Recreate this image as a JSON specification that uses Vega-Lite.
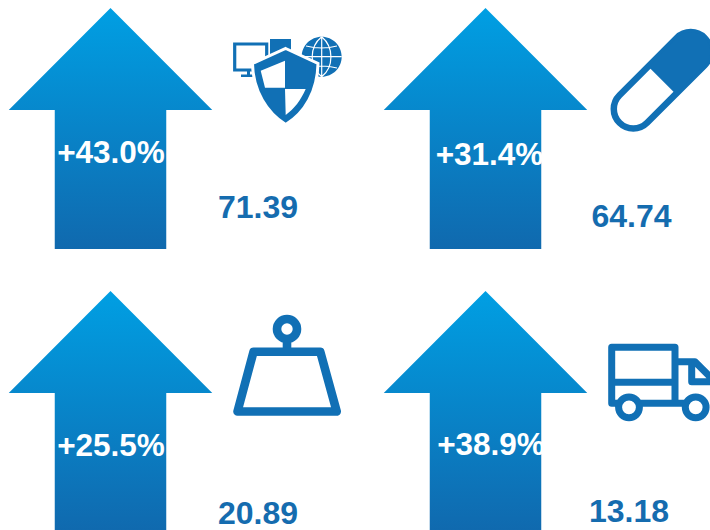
{
"$schema":"https://vega.github.io/schema/vega-lite/v6.json",
"width":710,"height":530,"padding":0,"background":"white",
"autosize":{"type":"fit","contains":"padding"},
"config":{"view":{"stroke":null}},
"data":{"values":[
{"panel":"security","col":0,"row":0,"change":0.43,"value":71.39},
{"panel":"pill","col":1,"row":0,"change":0.314,"value":64.74},
{"panel":"weight","col":0,"row":1,"change":0.255,"value":20.89},
{"panel":"truck","col":1,"row":1,"change":0.389,"value":13.18}
]},
"encoding":{
"x":{"field":"col","type":"quantitative","axis":null,"scale":{"domain":[0,1],"range":[110.5,485.5]}},
"y":{"field":"row","type":"quantitative","axis":null,"scale":{"domain":[0,1],"range":[128.5,411.5]}}
},
"layer":[
{"mark":{"type":"point","clip":true,"filled":true,"opacity":1,"size":4,"shape":"M0,-120.5 L101.75,-18.5 L55.75,-18.5 L55.75,120.5 L-55.75,120.5 L-55.75,-18.5 L-101.75,-18.5 Z","fill":{"gradient":"linear","x1":0,"y1":0,"x2":0,"y2":1,"stops":[{"offset":0,"color":"#009FE3"},{"offset":1,"color":"#1069AE"}]}}},

{"transform":[{"filter":"datum.panel==='security'"}],"mark":{"type":"point","filled":false,"opacity":1,"size":4,"xOffset":174.5,"yOffset":-55.5,"stroke":"#1170B5","strokeWidth":3.2,"shape":"M-50.3,-29 L-18.3,-29 L-18.3,-3 L-50.3,-3 Z"}},
{"transform":[{"filter":"datum.panel==='security'"}],"mark":{"type":"point","filled":true,"opacity":1,"size":4,"xOffset":174.5,"yOffset":-55.5,"fill":"#1170B5","shape":"M-15,-34 L6,-34 L6,-12 L-15,-12 Z M-38,-3 L-35,-3 L-35,1.5 L-32,1.5 L-32,4 L-44,4 L-44,1.5 L-38,1.5 Z M36.7,-36.3 A20,20 0 1 1 36.7,3.7 A20,20 0 1 1 36.7,-36.3 Z"}},
{"transform":[{"filter":"datum.panel==='security'"}],"mark":{"type":"point","filled":false,"opacity":1,"size":4,"xOffset":174.5,"yOffset":-55.5,"stroke":"white","strokeWidth":1.2,"shape":"M36.7,-36.3 C24,-26 24,-6 36.7,3.7 C49,-6 49,-26 36.7,-36.3 M36.7,-36.3 L36.7,3.7 M16.7,-16.3 L56.7,-16.3 M21,-27 Q36.7,-23 52,-27 M21,-5 Q36.7,-9 52,-5"}},
{"transform":[{"filter":"datum.panel==='security'"}],"mark":{"type":"point","filled":true,"opacity":1,"size":4,"xOffset":174.5,"yOffset":-55.5,"fill":"#1170B5","stroke":"white","strokeWidth":3,"shape":"M0.7,-24.5 L33,-9.5 C32.5,18 20,40 0.7,51.5 C-18,40 -32,18 -32.5,-9.5 Z"}},
{"transform":[{"filter":"datum.panel==='security'"}],"mark":{"type":"point","filled":true,"opacity":1,"size":4,"xOffset":174.5,"yOffset":-55.5,"fill":"white","shape":"M-24.3,-2.3 L0,-12.3 L0,14.7 L-20,14.7 Z M0,16 L20.7,16 C16,27 9,36 0.7,42 Z"}},

{"transform":[{"filter":"datum.panel==='pill'"}],"mark":{"type":"point","clip":true,"filled":false,"opacity":1,"size":4,"xOffset":176.5,"yOffset":-48.2,"stroke":"#1170B5","strokeWidth":6.5,"shape":"M-42.5,14.9 L14.9,-42.5 A19.5,19.5 0 0 1 42.5,-14.9 L-14.9,42.5 A19.5,19.5 0 0 1 -42.5,14.9 Z"}},
{"transform":[{"filter":"datum.panel==='pill'"}],"mark":{"type":"point","clip":true,"filled":true,"opacity":1,"size":4,"xOffset":176.5,"yOffset":-48.2,"fill":"#1170B5","shape":"M-13.5,-13.5 L14.9,-42.5 A19.5,19.5 0 0 1 42.5,-14.9 L13.5,13.5 Z"}},

{"transform":[{"filter":"datum.panel==='weight'"}],"mark":{"type":"point","filled":false,"opacity":1,"size":4,"xOffset":176.5,"yOffset":-41.5,"stroke":"#1170B5","strokeWidth":8.6,"strokeJoin":"round","shape":"M-33.5,-18.2 L33.3,-18.2 L49.7,41.5 L-49.5,41.5 Z M0,-31 L0,-18 M-10,-41 A10,10 0 1 0 10,-41 A10,10 0 1 0 -10,-41 Z"}},

{"transform":[{"filter":"datum.panel==='truck'"}],"mark":{"type":"point","clip":true,"filled":false,"opacity":1,"size":4,"xOffset":179.5,"yOffset":-31.5,"stroke":"#1170B5","strokeWidth":7,"strokeJoin":"round","shape":"M-47,23.3 L-53.3,23.3 L-53.3,-32.7 L10,-32.7 L10,23.3 M-53.3,2.3 L10,2.3 M-25,23.3 L20,23.3 M10,-18.3 L30,-18.3 L55,6.7 M26.7,-18.3 L26.7,1.7 L55,1.7 M-46.4,27.3 A10.4,10.4 0 1 0 -25.6,27.3 A10.4,10.4 0 1 0 -46.4,27.3 Z M20.3,27.3 A10.4,10.4 0 1 0 41.1,27.3 A10.4,10.4 0 1 0 20.3,27.3 Z"}},

{"transform":[{"filter":"datum.panel==='security'"}],"mark":{"type":"text","font":"Liberation Sans","fontWeight":"bold","fontSize":31.5,"baseline":"middle","align":"center","color":"white","dx":0.5,"dy":25.5},"encoding":{"text":{"field":"change","type":"quantitative","format":"+.1%"}}},
{"transform":[{"filter":"datum.panel==='pill'"}],"mark":{"type":"text","font":"Liberation Sans","fontWeight":"bold","fontSize":31.5,"baseline":"middle","align":"center","color":"white","dx":4,"dy":27.5},"encoding":{"text":{"field":"change","type":"quantitative","format":"+.1%"}}},
{"transform":[{"filter":"datum.panel==='weight'"}],"mark":{"type":"text","font":"Liberation Sans","fontWeight":"bold","fontSize":31.5,"baseline":"middle","align":"center","color":"white","dx":0.5,"dy":35.5},"encoding":{"text":{"field":"change","type":"quantitative","format":"+.1%"}}},
{"transform":[{"filter":"datum.panel==='truck'"}],"mark":{"type":"text","font":"Liberation Sans","fontWeight":"bold","fontSize":31.5,"baseline":"middle","align":"center","color":"white","dx":5.5,"dy":34},"encoding":{"text":{"field":"change","type":"quantitative","format":"+.1%"}}},

{"transform":[{"filter":"datum.panel==='security'"}],"mark":{"type":"text","font":"Liberation Sans","fontWeight":"bold","fontSize":32,"baseline":"middle","align":"center","color":"#156CAF","dx":147.5,"dy":79.5},"encoding":{"text":{"field":"value","type":"quantitative","format":".2f"}}},
{"transform":[{"filter":"datum.panel==='pill'"}],"mark":{"type":"text","font":"Liberation Sans","fontWeight":"bold","fontSize":32,"baseline":"middle","align":"center","color":"#156CAF","dx":146,"dy":88.5},"encoding":{"text":{"field":"value","type":"quantitative","format":".2f"}}},
{"transform":[{"filter":"datum.panel==='weight'"}],"mark":{"type":"text","font":"Liberation Sans","fontWeight":"bold","fontSize":32,"baseline":"middle","align":"center","color":"#156CAF","dx":147.5,"dy":102.5},"encoding":{"text":{"field":"value","type":"quantitative","format":".2f"}}},
{"transform":[{"filter":"datum.panel==='truck'"}],"mark":{"type":"text","font":"Liberation Sans","fontWeight":"bold","fontSize":32,"baseline":"middle","align":"center","color":"#156CAF","dx":143.5,"dy":100.5},"encoding":{"text":{"field":"value","type":"quantitative","format":".2f"}}}
]
}
